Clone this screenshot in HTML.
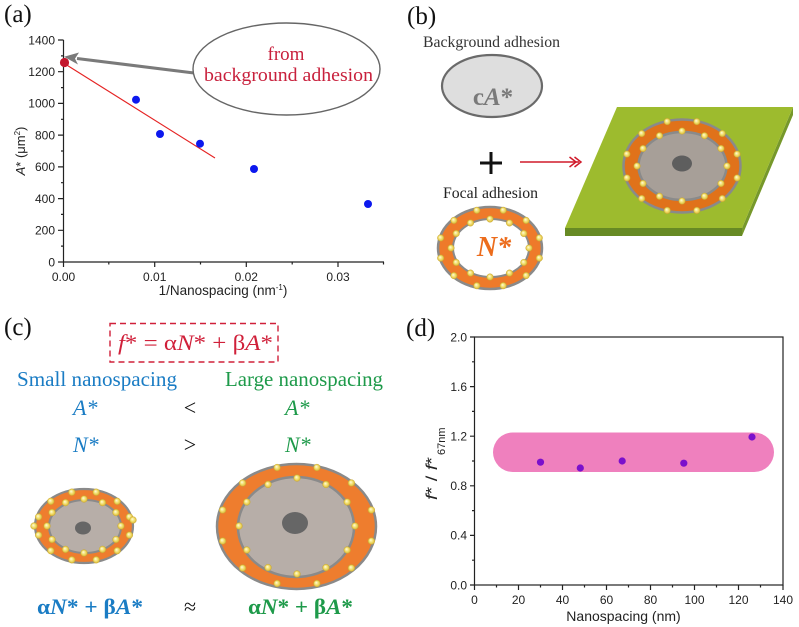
<!DOCTYPE html>
<html><head><meta charset="utf-8"><style>
html,body{margin:0;padding:0;background:#fff;}
svg{display:block;}
.tk{font-family:"Liberation Sans",Arial,sans-serif;font-size:12px;fill:#222;}
.sf{font-family:"Liberation Serif","Times New Roman",serif;}
.b{fill:url(#bead);stroke:#c9a630;stroke-width:0.4;}
</style></head><body>
<svg width="799" height="627" viewBox="0 0 799 627" xmlns="http://www.w3.org/2000/svg">
<defs>
<radialGradient id="bead" cx="50%" cy="50%" r="50%" fx="38%" fy="35%">
<stop offset="0" stop-color="#fffde0"/>
<stop offset="0.55" stop-color="#f3e070"/>
<stop offset="1" stop-color="#d6b535"/>
</radialGradient>
</defs>
<rect width="799" height="627" fill="#fff"/>

<!-- ================= (a) ================= -->
<text x="4" y="22" class="sf" font-size="25" fill="#111">(a)</text>
<g stroke="#222" stroke-width="1.2" fill="none">
<line x1="63.5" y1="40" x2="63.5" y2="262.5"/>
<line x1="63" y1="262" x2="384" y2="262"/>
<path d="M58 262H63.5M58 230.3H63.5M58 198.6H63.5M58 166.9H63.5M58 135.1H63.5M58 103.4H63.5M58 71.7H63.5M58 40H63.5"/>
<path d="M61 246.1H63.5M61 214.4H63.5M61 182.7H63.5M61 151H63.5M61 119.3H63.5M61 87.6H63.5M61 55.9H63.5"/>
<path d="M63.5 262V267M154.7 262V267M246.3 262V267M338 262V267"/>
<path d="M108.8 262V264.5M200.5 262V264.5M292.2 262V264.5M383.5 262V264.5"/>
</g>
<g class="tk" text-anchor="end">
<text x="55" y="266.3">0</text>
<text x="55" y="234.6">200</text>
<text x="55" y="202.9">400</text>
<text x="55" y="171.2">600</text>
<text x="55" y="139.4">800</text>
<text x="55" y="107.7">1000</text>
<text x="55" y="76">1200</text>
<text x="55" y="44.3">1400</text>
</g>
<g class="tk" text-anchor="middle">
<text x="63.5" y="281">0.00</text>
<text x="154.7" y="281">0.01</text>
<text x="246.3" y="281">0.02</text>
<text x="338" y="281">0.03</text>
</g>
<text x="223" y="295" text-anchor="middle" font-family="Liberation Sans,Arial,sans-serif" font-size="13.5" fill="#222">1/Nanospacing (nm<tspan font-size="8" dy="-5">-1</tspan><tspan dy="5">)</tspan></text>
<text transform="translate(25,151) rotate(-90)" text-anchor="middle" font-family="Liberation Sans,Arial,sans-serif" font-size="13" fill="#222"><tspan font-style="italic">A</tspan>* (μm<tspan font-size="8" dy="-5">2</tspan><tspan dy="5">)</tspan></text>
<line x1="63.5" y1="63" x2="215" y2="158" stroke="#e52222" stroke-width="1.1"/>
<g fill="#0c18ee">
<circle cx="136" cy="99.7" r="4"/>
<circle cx="160" cy="134" r="4"/>
<circle cx="200" cy="143.7" r="4"/>
<circle cx="254" cy="169" r="4"/>
<circle cx="368" cy="204" r="4"/>
</g>
<circle cx="64.5" cy="62.5" r="4.6" fill="#c3162c"/>
<line x1="194" y1="73" x2="77" y2="58.5" stroke="#7a7a7a" stroke-width="3"/>
<polygon points="64,56.8 79,52.5 75,58.6 78,64.5" fill="#7a7a7a"/>
<ellipse cx="286.5" cy="69" rx="93.5" ry="46" fill="#fff" stroke="#666" stroke-width="1.4"/>
<text x="286" y="60" text-anchor="middle" class="sf" font-size="19" fill="#c8203c">from</text>
<text x="288.5" y="81" text-anchor="middle" class="sf" font-size="19" fill="#c8203c" textLength="169" lengthAdjust="spacingAndGlyphs">background adhesion</text>

<!-- ================= (b) ================= -->
<text x="407" y="24" class="sf" font-size="25" fill="#111">(b)</text>
<text x="423" y="47" class="sf" font-size="16" fill="#333" textLength="137" lengthAdjust="spacingAndGlyphs">Background adhesion</text>
<ellipse cx="492" cy="86" rx="50" ry="31" fill="#dedede" stroke="#6a6a6a" stroke-width="2.2"/>
<text x="493" y="105" text-anchor="middle" class="sf" font-size="25" font-weight="bold" fill="#7a7a7a">c<tspan font-style="italic">A</tspan>*</text>
<path d="M480 163H502M491 152V174" stroke="#111" stroke-width="3"/>
<g stroke="#d01a2a" stroke-width="1.5" fill="none">
<line x1="520" y1="162" x2="579" y2="162"/>
<polyline points="569.5,157 576,162 569.5,167"/>
<polyline points="574.5,157 581,162 574.5,167"/>
</g>
<text x="443" y="198" class="sf" font-size="16" fill="#222" textLength="95" lengthAdjust="spacingAndGlyphs">Focal adhesion</text>
<ellipse cx="490" cy="248" rx="52" ry="41" fill="#ee7a2a" stroke="#8a8a8a" stroke-width="2.5"/>
<ellipse cx="491" cy="248" rx="38" ry="29" fill="#fff" stroke="#8a8a8a" stroke-width="2"/>
<text x="494" y="256" text-anchor="middle" class="sf" font-size="28" font-weight="bold" font-style="italic" fill="#ec6c1c">N*</text>
<g class="b">
<circle cx="539.3" cy="258.1" r="3.3"/><circle cx="526.1" cy="275.6" r="3.3"/><circle cx="503.2" cy="285.7" r="3.3"/><circle cx="476.8" cy="285.7" r="3.3"/><circle cx="453.9" cy="275.6" r="3.3"/><circle cx="440.7" cy="258.1" r="3.3"/><circle cx="440.7" cy="237.9" r="3.3"/><circle cx="453.9" cy="220.4" r="3.3"/><circle cx="476.8" cy="210.3" r="3.3"/><circle cx="503.2" cy="210.3" r="3.3"/><circle cx="526.1" cy="220.4" r="3.3"/><circle cx="539.3" cy="237.9" r="3.3"/>
<circle cx="529" cy="248" r="3.3"/><circle cx="523.8" cy="262.5" r="3.3"/><circle cx="509.5" cy="273.1" r="3.3"/><circle cx="490" cy="277" r="3.3"/><circle cx="470.5" cy="273.1" r="3.3"/><circle cx="456.2" cy="262.5" r="3.3"/><circle cx="451" cy="248" r="3.3"/><circle cx="456.2" cy="233.5" r="3.3"/><circle cx="470.5" cy="222.9" r="3.3"/><circle cx="490" cy="219" r="3.3"/><circle cx="509.5" cy="222.9" r="3.3"/><circle cx="523.8" cy="233.5" r="3.3"/>
</g>
<polygon points="565,228 742,228 742,236 565,236" fill="#678a24"/>
<polygon points="742,228 793,107 793,115 742,236" fill="#76982a"/>
<polygon points="617,107 793,107 742,228 565,228" fill="#9dbb2e"/>
<ellipse cx="682" cy="166" rx="58.5" ry="46.5" fill="#e0721a" stroke="#8a8a8a" stroke-width="2.5"/>
<ellipse cx="682.5" cy="166" rx="44" ry="34" fill="#a79f98" stroke="#8a8a8a" stroke-width="2.5"/>
<ellipse cx="682" cy="163.5" rx="10" ry="8" fill="#5e5e5e"/>
<g class="b">
<circle cx="737.1" cy="177.9" r="3.3"/><circle cx="722.3" cy="198.5" r="3.3"/><circle cx="696.8" cy="210.4" r="3.3"/><circle cx="667.2" cy="210.4" r="3.3"/><circle cx="641.7" cy="198.5" r="3.3"/><circle cx="626.9" cy="177.9" r="3.3"/><circle cx="626.9" cy="154.1" r="3.3"/><circle cx="641.7" cy="133.5" r="3.3"/><circle cx="667.2" cy="121.6" r="3.3"/><circle cx="696.8" cy="121.6" r="3.3"/><circle cx="722.3" cy="133.5" r="3.3"/><circle cx="737.1" cy="154.1" r="3.3"/>
<circle cx="727" cy="166" r="3.3"/><circle cx="721" cy="183.5" r="3.3"/><circle cx="704.5" cy="196.3" r="3.3"/><circle cx="682" cy="201" r="3.3"/><circle cx="659.5" cy="196.3" r="3.3"/><circle cx="643" cy="183.5" r="3.3"/><circle cx="637" cy="166" r="3.3"/><circle cx="643" cy="148.5" r="3.3"/><circle cx="659.5" cy="135.7" r="3.3"/><circle cx="682" cy="131" r="3.3"/><circle cx="704.5" cy="135.7" r="3.3"/><circle cx="721" cy="148.5" r="3.3"/>
</g>

<!-- ================= (c) ================= -->
<text x="4" y="335" class="sf" font-size="25" fill="#111">(c)</text>
<rect x="110" y="323.5" width="168" height="38.5" fill="none" stroke="#d0203a" stroke-width="1.4" stroke-dasharray="6,4"/>
<text x="118" y="350" class="sf" font-size="22" fill="#d0203a" textLength="155" lengthAdjust="spacingAndGlyphs"><tspan font-style="italic">f</tspan>* = α<tspan font-style="italic">N</tspan>* + β<tspan font-style="italic">A</tspan>*</text>
<text x="17" y="386" class="sf" font-size="21" fill="#1a7cc4" textLength="160" lengthAdjust="spacingAndGlyphs">Small nanospacing</text>
<text x="225" y="386" class="sf" font-size="21" fill="#1e9a4a" textLength="158" lengthAdjust="spacingAndGlyphs">Large nanospacing</text>
<text x="73" y="415" class="sf" font-size="22" fill="#1a7cc4" font-style="italic">A*</text>
<text x="285" y="415" class="sf" font-size="22" fill="#1e9a4a" font-style="italic">A*</text>
<text x="190" y="415" class="sf" font-size="22" fill="#111" text-anchor="middle">&lt;</text>
<text x="73" y="452" class="sf" font-size="22" fill="#1a7cc4" font-style="italic">N*</text>
<text x="285" y="452" class="sf" font-size="22" fill="#1e9a4a" font-style="italic">N*</text>
<text x="190" y="452" class="sf" font-size="22" fill="#111" text-anchor="middle">&gt;</text>
<ellipse cx="84" cy="526" rx="49" ry="37" fill="#ee7d2e" stroke="#8a8a8a" stroke-width="2.2"/>
<ellipse cx="85" cy="526.5" rx="36" ry="26.5" fill="#b7aea8" stroke="#8a8a8a" stroke-width="2"/>
<ellipse cx="83" cy="528" rx="8" ry="6.5" fill="#666"/>
<g class="b">
<circle cx="129.4" cy="535.1" r="3.4"/><circle cx="117.2" cy="550.7" r="3.4"/><circle cx="96.2" cy="559.8" r="3.4"/><circle cx="71.8" cy="559.8" r="3.4"/><circle cx="50.8" cy="550.7" r="3.4"/><circle cx="38.6" cy="535.1" r="3.4"/><circle cx="38.6" cy="516.9" r="3.4"/><circle cx="50.8" cy="501.3" r="3.4"/><circle cx="71.8" cy="492.2" r="3.4"/><circle cx="96.2" cy="492.2" r="3.4"/><circle cx="117.2" cy="501.3" r="3.4"/><circle cx="129.4" cy="516.9" r="3.4"/><circle cx="34" cy="526" r="3.4"/><circle cx="133" cy="520" r="3.4"/>
<circle cx="121" cy="526" r="3.4"/><circle cx="116" cy="539.5" r="3.4"/><circle cx="102.5" cy="549.4" r="3.4"/><circle cx="84" cy="553" r="3.4"/><circle cx="65.5" cy="549.4" r="3.4"/><circle cx="52" cy="539.5" r="3.4"/><circle cx="47" cy="526" r="3.4"/><circle cx="52" cy="512.5" r="3.4"/><circle cx="65.5" cy="502.6" r="3.4"/><circle cx="84" cy="499" r="3.4"/><circle cx="102.5" cy="502.6" r="3.4"/><circle cx="116" cy="512.5" r="3.4"/>
</g>
<ellipse cx="296.5" cy="526.5" rx="79.5" ry="62.5" fill="#ee7d2e" stroke="#8a8a8a" stroke-width="2.5"/>
<ellipse cx="296" cy="527" rx="58" ry="50" fill="#b7aea8" stroke="#8a8a8a" stroke-width="2.5"/>
<ellipse cx="295" cy="523" rx="13" ry="11" fill="#666"/>
<g class="b">
<circle cx="371.4" cy="541" r="3.4"/><circle cx="351.4" cy="568" r="3.4"/><circle cx="316.9" cy="583.5" r="3.4"/><circle cx="277.1" cy="583.5" r="3.4"/><circle cx="242.6" cy="568" r="3.4"/><circle cx="222.6" cy="541" r="3.4"/><circle cx="222.6" cy="510" r="3.4"/><circle cx="242.6" cy="483" r="3.4"/><circle cx="277.1" cy="467.5" r="3.4"/><circle cx="316.9" cy="467.5" r="3.4"/><circle cx="351.4" cy="483" r="3.4"/><circle cx="371.4" cy="510" r="3.4"/>
<circle cx="355" cy="526" r="3.4"/><circle cx="347.2" cy="550" r="3.4"/><circle cx="326" cy="567.6" r="3.4"/><circle cx="297" cy="574" r="3.4"/><circle cx="268" cy="567.6" r="3.4"/><circle cx="246.8" cy="550" r="3.4"/><circle cx="239" cy="526" r="3.4"/><circle cx="246.8" cy="502" r="3.4"/><circle cx="268" cy="484.4" r="3.4"/><circle cx="297" cy="478" r="3.4"/><circle cx="326" cy="484.4" r="3.4"/><circle cx="347.2" cy="502" r="3.4"/>
</g>
<text x="37" y="614" class="sf" font-size="22" font-weight="bold" fill="#1a7cc4" textLength="106" lengthAdjust="spacingAndGlyphs">α<tspan font-style="italic">N</tspan>* + β<tspan font-style="italic">A</tspan>*</text>
<text x="190" y="614" class="sf" font-size="22" fill="#111" text-anchor="middle">≈</text>
<text x="248" y="614" class="sf" font-size="22" font-weight="bold" fill="#1e9a4a" textLength="105" lengthAdjust="spacingAndGlyphs">α<tspan font-style="italic">N</tspan>* + β<tspan font-style="italic">A</tspan>*</text>

<!-- ================= (d) ================= -->
<text x="406" y="336" class="sf" font-size="25" fill="#111">(d)</text>
<rect x="493" y="432.5" width="281" height="39.5" rx="19.75" ry="19.75" fill="#ef80be"/>
<g stroke="#222" stroke-width="1.2" fill="none">
<rect x="474.5" y="337" width="308.5" height="248"/>
<path d="M470 585H474.5M470 535.4H474.5M470 485.8H474.5M470 436.2H474.5M470 386.6H474.5M470 337H474.5"/>
<path d="M472 560.2H474.5M472 510.6H474.5M472 461H474.5M472 411.4H474.5M472 361.8H474.5"/>
<path d="M474.5 585V590M518.5 585V590M562.5 585V590M606.5 585V590M650.5 585V590M694.5 585V590M738.5 585V590M783 585V590"/>
<path d="M496.5 585V587.5M540.5 585V587.5M584.5 585V587.5M628.5 585V587.5M672.5 585V587.5M716.5 585V587.5M760.5 585V587.5"/>
</g>
<g class="tk" text-anchor="end">
<text x="467" y="589.3">0.0</text>
<text x="467" y="539.7">0.4</text>
<text x="467" y="490.1">0.8</text>
<text x="467" y="440.5">1.2</text>
<text x="467" y="390.9">1.6</text>
<text x="467" y="341.3">2.0</text>
</g>
<g class="tk" text-anchor="middle">
<text x="474.5" y="604">0</text>
<text x="518.5" y="604">20</text>
<text x="562.5" y="604">40</text>
<text x="606.5" y="604">60</text>
<text x="650.5" y="604">80</text>
<text x="694.5" y="604">100</text>
<text x="738.5" y="604">120</text>
<text x="783" y="604">140</text>
</g>
<text x="623.5" y="621" text-anchor="middle" font-family="Liberation Sans,Arial,sans-serif" font-size="14" fill="#222">Nanospacing (nm)</text>
<text transform="translate(437,500) rotate(-90)" font-family="Liberation Sans,Arial,sans-serif" font-size="16" fill="#222" textLength="43" lengthAdjust="spacingAndGlyphs"><tspan font-style="italic">f</tspan>* / <tspan font-style="italic">f</tspan>*</text>
<text transform="translate(445,455) rotate(-90)" font-family="Liberation Sans,Arial,sans-serif" font-size="11" fill="#222">67nm</text>
<g fill="#7a10cc">
<circle cx="540.5" cy="462.2" r="3.6"/>
<circle cx="580.3" cy="468" r="3.6"/>
<circle cx="622.2" cy="461" r="3.6"/>
<circle cx="683.8" cy="463.2" r="3.6"/>
<circle cx="752" cy="437" r="3.6"/>
</g>
</svg>
</body></html>
